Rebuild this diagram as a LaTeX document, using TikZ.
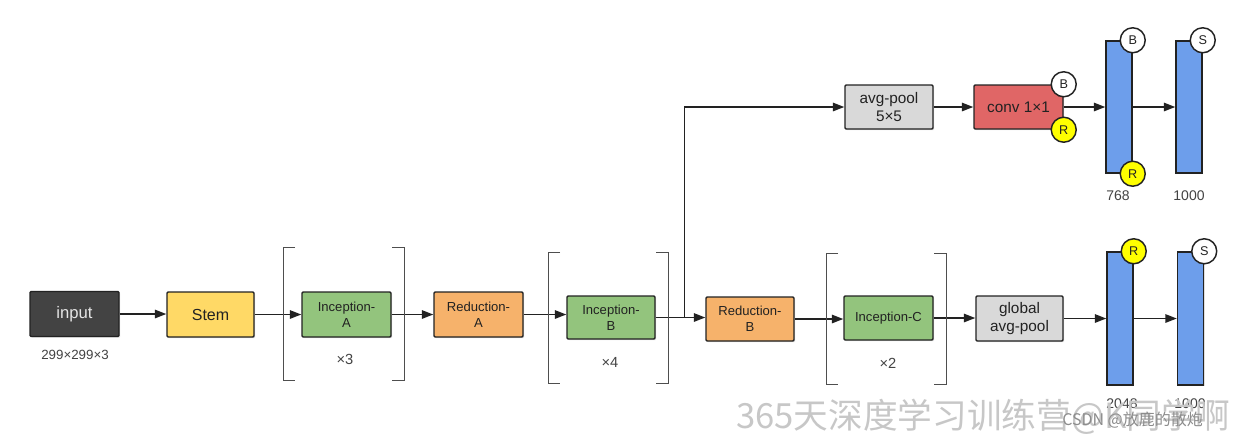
\documentclass[tikz,border=0pt]{standalone}
\usepackage{fontspec}
\setmainfont{Liberation Sans}
\newfontfamily\cjk{Noto Sans CJK SC}
\usetikzlibrary{arrows.meta,shadows,positioning}
\definecolor{cinput}{HTML}{434343}
\definecolor{cstem}{HTML}{FFD966}
\definecolor{cinc}{HTML}{93C47D}
\definecolor{cred}{HTML}{F6B26B}
\definecolor{cgray}{HTML}{D9D9D9}
\definecolor{cconv}{HTML}{E06666}
\definecolor{cbar}{HTML}{6D9EEB}
\definecolor{cyel}{HTML}{FFFF00}
\definecolor{ctext}{HTML}{222222}
\tikzset{
  blk/.style={draw=ctext, line width=1.1pt, rounded corners=0.8pt, minimum width=#1*0.75pt, text=ctext, align=center, inner sep=1pt,
    drop shadow={shadow xshift=0.9pt, shadow yshift=-0.9pt, opacity=0.25}},
  blk/.default=88,
  bar/.style={draw=ctext, line width=1.1pt, fill=cbar, minimum width=26*0.75pt, minimum height=132*0.75pt, inner sep=0pt,
    drop shadow={shadow xshift=0.9pt, shadow yshift=-0.9pt, opacity=0.25}},
  badge/.style={circle, draw=ctext, line width=1.1pt, minimum size=25*0.75pt, inner sep=0pt, font=\fontsize{9.5}{10}\selectfont, text=ctext},
  arr/.style={line width=1.1pt, draw=ctext, -{Triangle[length=8.5pt,width=6.3pt]}},
  brk/.style={line width=0.7pt, draw=ctext!80},
  lbl/.style={text=ctext!85, inner sep=0pt},
}
\begin{document}
\begin{tikzpicture}[x=0.75pt,y=-0.75pt]
\useasboundingbox (0,0) rectangle (1250,444);
\fill[white] (0,0) rectangle (1250,444);

% main row
\node[blk=89, fill=cinput, text=white!90!black, minimum height=45*0.75pt, font=\fontsize{12.5}{14}\selectfont] (input) at (74.5,314) {input};
\node[blk=87, fill=cstem, minimum height=45*0.75pt, font=\fontsize{12}{14}\selectfont] (stem) at (210.5,314.5) {Stem};
\node[blk=89, fill=cinc, minimum height=45*0.75pt, font=\fontsize{9.8}{12}\selectfont] (incA) at (346.5,314.5) {Inception-\\A};
\node[blk=89, fill=cred, minimum height=45*0.75pt, font=\fontsize{9.8}{12}\selectfont] (redA) at (478.5,314.5) {Reduction-\\A};
\node[blk=88, fill=cinc, minimum height=43*0.75pt, font=\fontsize{9.8}{12}\selectfont] (incB) at (611,317.5) {Inception-\\B};
\node[blk=88, fill=cred, minimum height=44*0.75pt, font=\fontsize{9.8}{12}\selectfont] (redB) at (750,319) {Reduction-\\B};
\node[blk=89, fill=cinc, minimum height=44*0.75pt, font=\fontsize{9.8}{12}\selectfont] (incC) at (888.5,318) {Inception-C};
\node[blk=87, fill=cgray, minimum height=45*0.75pt, font=\fontsize{11.5}{13}\selectfont] (gap) at (1019.5,318.5) {global\\avg-pool};
\node[bar, minimum height=133*0.75pt] (fc2048) at (1120,318.5) {};
\node[bar, minimum height=133*0.75pt] (fc1000b) at (1190.5,318.5) {};
\node[badge, fill=cyel] (r2048) at (fc2048.north east) {R};
\node[badge, fill=white] (s1000b) at (fc1000b.north east) {S};

% top branch
\node[blk=88, fill=cgray, minimum height=44*0.75pt, font=\fontsize{11.5}{13}\selectfont] (avgp) at (889,107) {avg-pool\\5×5};
\node[blk=89, fill=cconv, minimum height=44*0.75pt, font=\fontsize{11.5}{13}\selectfont] (conv) at (1018.5,107) {conv 1×1};
\node[badge, fill=white] (bconv) at (conv.north east) {B};
\node[badge, fill=cyel] (rconv) at (conv.south east) {R};
\node[bar] (fc768) at (1119,107) {};
\node[bar] (fc1000t) at (1189,107) {};
\node[badge, fill=white] (b768) at (fc768.north east) {B};
\node[badge, fill=cyel] (r768) at (fc768.south east) {R};
\node[badge, fill=white] (s1000t) at (fc1000t.north east) {S};

% connectors
\draw[arr] (input.east) -- (input.east -| stem.west);
\draw[arr] (stem.east) -- (stem.east -| incA.west);
\draw[arr] (incA.east) -- (incA.east -| redA.west);
\draw[arr] (redA.east) -- (redA.east -| incB.west);
\coordinate (br) at ([xshift=29*0.75pt]incB.east);
\draw[arr] (incB.east) -- (br) -- (br -| redB.west);
\draw[arr] (redB.east) -- (redB.east -| incC.west);
\draw[arr] (incC.east) -- (incC.east -| gap.west);
\draw[arr] (gap.east) -- (gap.east -| fc2048.west);
\draw[arr] (fc2048.east) -- (fc2048.east -| fc1000b.west);
\draw[arr] (br) |- (avgp.west);
\draw[arr] (avgp.east) -- (conv.west);
\draw[arr] (conv.east) -- (fc768.west);
\draw[arr] (fc768.east) -- (fc1000t.west);

% brackets
\draw[brk] (295,247) -- (283,247) -- (283,380) -- (295,380);
\draw[brk] (392,247) -- (404,247) -- (404,380) -- (392,380);
\draw[brk] (560,252) -- (548,252) -- (548,383) -- (560,383);
\draw[brk] (656,252) -- (668,252) -- (668,383) -- (656,383);
\draw[brk] (838,253) -- (826,253) -- (826,384) -- (838,384);
\draw[brk] (934,253) -- (946,253) -- (946,384) -- (934,384);

% labels
\node[lbl, font=\fontsize{10}{12}\selectfont] (ldim) at (75,355) {299×299×3};
\node[lbl, font=\fontsize{11}{13}\selectfont] (lx3) at (345,359) {×3};
\node[lbl, font=\fontsize{11}{13}\selectfont] (lx4) at (610,362) {×4};
\node[lbl, font=\fontsize{11}{13}\selectfont] (lx2) at (888,363) {×2};
\node[lbl, font=\fontsize{10.5}{12}\selectfont] (l768) at (1118,196) {768};
\node[lbl, font=\fontsize{10.5}{12}\selectfont] (l1000t) at (1189,196) {1000};
\node[lbl, font=\fontsize{10.5}{12}\selectfont] (l2048) at (1122,404) {2048};
\node[lbl, font=\fontsize{10.5}{12}\selectfont] (l1000b) at (1190,404) {1000};

% watermark
\node[anchor=west, inner sep=0pt, text=black!22, font=\cjk\fontsize{26}{28}\selectfont] (wm1) at (736,417) {365天深度学习训练营@K同学啊};
\node[anchor=west, inner sep=0pt, text=black!45, font=\cjk\fontsize{12}{14}\selectfont] (wm2) at (1062,420) {CSDN @放鹿的散炮};
\end{tikzpicture}
\end{document}
